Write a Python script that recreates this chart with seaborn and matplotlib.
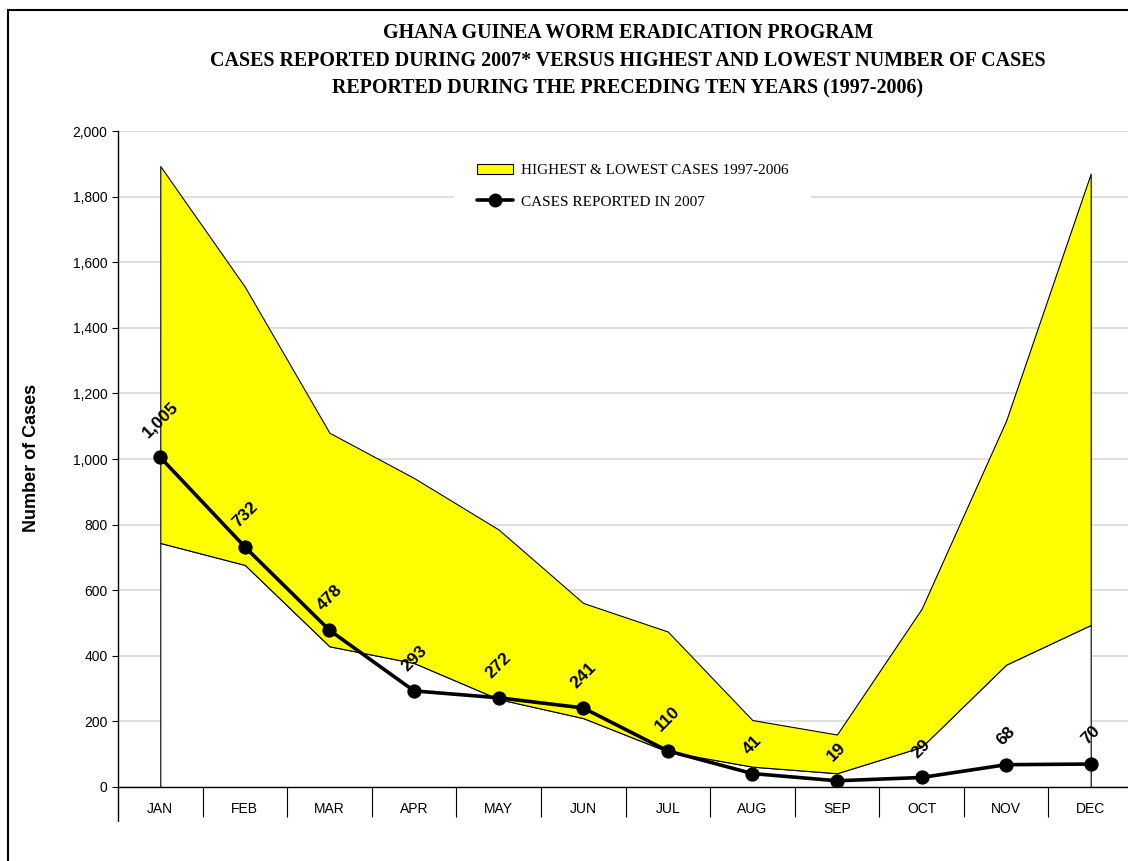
import numpy as np
import pandas as pd
import seaborn as sns
import matplotlib.pyplot as plt
from matplotlib.patches import Patch, Rectangle
from matplotlib.lines import Line2D

months = ['JAN', 'FEB', 'MAR', 'APR', 'MAY', 'JUN',
          'JUL', 'AUG', 'SEP', 'OCT', 'NOV', 'DEC']
highest = [1893, 1525, 1080, 942, 785, 561, 474, 204, 160, 543, 1117, 1870]
lowest = [744, 677, 429, 378, 268, 210, 108, 62, 42, 122, 373, 494]
cases_2007 = [1005, 732, 478, 293, 272, 241, 110, 41, 19, 29, 68, 70]
y_ticks = list(range(0, 2001, 200))

title = ('GHANA GUINEA WORM ERADICATION PROGRAM\n'
         'CASES REPORTED DURING 2007* VERSUS HIGHEST AND LOWEST NUMBER OF CASES\n'
         'REPORTED DURING THE PRECEDING TEN YEARS (1997-2006)')

sns.set_theme(style='white')
plt.rcParams['font.family'] = ['Liberation Sans', 'DejaVu Sans']
plt.rcParams['text.color'] = 'black'
plt.rcParams['xtick.color'] = 'black'
plt.rcParams['ytick.color'] = 'black'

W, H = 1128, 861
fig = plt.figure(figsize=(W / 100, H / 100), dpi=100)
ax = fig.add_axes([118 / W, (H - 787) / H, 1015 / W, 656 / H])

x = np.arange(len(months))
df = pd.DataFrame({'pos': x, 'month': months, 'cases': cases_2007})

# band: white area up to lowest, yellow between lowest and highest
ax.fill_between(x, 0, lowest, facecolor='white', edgecolor='black', lw=0.8, zorder=1)
ax.fill_between(x, lowest, highest, facecolor='#ffff00', edgecolor='black', lw=0.8, zorder=1)

sns.lineplot(data=df, x='pos', y='cases', ax=ax, color='black', lw=2.6,
             marker='o', markersize=9.5, markeredgecolor='black', zorder=3)

for i, v in enumerate(cases_2007):
    ax.annotate(f'{v:,}', (i, v), xytext=(0, 12), textcoords='offset points',
                ha='center', va='bottom', rotation=45, fontsize=12.5,
                fontweight='bold', color='black', zorder=4)

ax.set_xlim(-0.5, 11.5)
ax.set_ylim(0, 2000)
ax.set_xticks(x, months)
ax.set_xticks(np.arange(0.5, 11.5, 1), minor=True)
ax.tick_params(axis='x', which='major', length=0, pad=11, labelsize=10)
ax.tick_params(axis='x', which='minor', length=21.5, width=0.8, direction='out',
               color='black', bottom=True)
ax.set_yticks(y_ticks, [f'{t:,}' for t in y_ticks])
ax.tick_params(axis='y', length=4.5, width=0.8, direction='out', color='black',
               pad=3, labelsize=10, left=True)
ax.set_xlabel('')
ax.set_ylabel('')
ax.grid(axis='y', color='#d9d9d9', lw=1.2)
ax.set_axisbelow(True)
for s in ['top', 'right']:
    ax.spines[s].set_visible(False)
for s in ['left', 'bottom']:
    ax.spines[s].set_color('black')
    ax.spines[s].set_linewidth(1.0)
ax.add_line(Line2D([0, 0], [0, -34 / 656], transform=ax.transAxes,
                   color='black', lw=1.0, clip_on=False))

handles = [Patch(facecolor='#ffff00', edgecolor='black', lw=0.8),
           Line2D([], [], color='black', lw=2.6, marker='o', markersize=9)]
leg = ax.legend(handles, ['HIGHEST & LOWEST CASES 1997-2006', 'CASES REPORTED IN 2007'],
                loc='upper left', bbox_to_anchor=(446 / W, (H - 133) / H),
                bbox_transform=fig.transFigure, frameon=True, fancybox=False,
                facecolor='white', edgecolor='none', framealpha=1,
                borderpad=1.5, handlelength=2.4, handletextpad=0.5, labelspacing=1.15,
                prop={'family': 'Liberation Serif', 'size': 11})

fig.text(628 / W, 1 - 61 / H, title, ha='center', va='center', fontsize=14.4,
         fontweight='bold', family='Liberation Serif', linespacing=1.5,
         color='black')
fig.text(32 / W, 1 - 458 / H, 'Number of Cases', rotation=90, ha='center',
         va='center', fontsize=13, fontweight='bold', color='black')

fig.patches.append(Rectangle((8 / W, -0.1), 1.5, (H - 10) / H + 0.1,
                             transform=fig.transFigure, fill=False,
                             edgecolor='black', lw=1.5))

fig.savefig('out.png', dpi=100)
